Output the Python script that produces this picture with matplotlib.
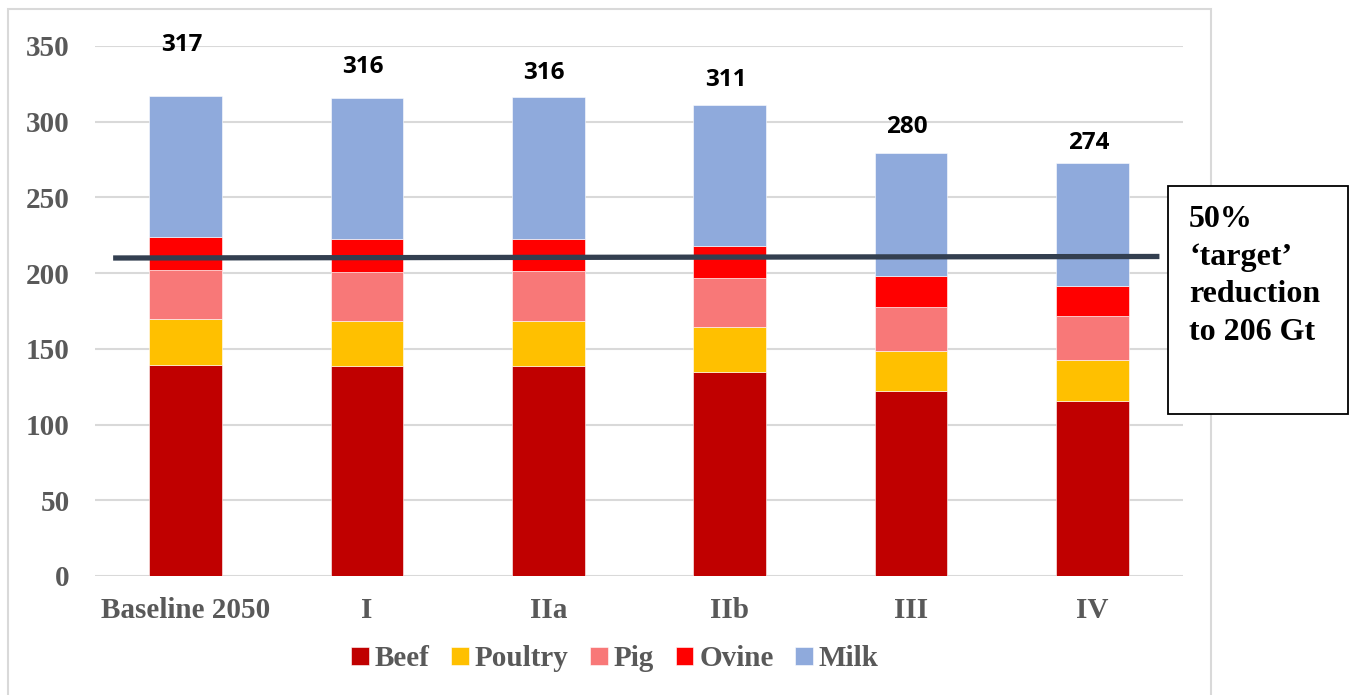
import numpy as np
import matplotlib.pyplot as plt
from matplotlib.patches import Rectangle

# scenarios and livestock emission components
scenarios = ["Baseline 2050", "I", "IIa", "IIb", "III", "IV"]
beef = [139.6, 138.5, 138.9, 134.7, 122.0, 115.8]
poultry = [30.1, 30.1, 29.7, 29.8, 26.8, 26.7]
pig = [32.2, 32.2, 32.6, 32.3, 28.9, 29.2]
ovine = [21.8, 21.6, 21.4, 20.9, 20.5, 19.8]
milk = [93.3, 93.3, 93.5, 93.6, 81.2, 81.3]
totals = [317, 316, 316, 311, 280, 274]

target_x = [-0.40, 5.37]
target_y = [210, 211]
target_text = "50%\n\u2018target\u2019\nreduction\nto 206 Gt"

series = [("Beef", beef, "#C00000"), ("Poultry", poultry, "#FFC000"),
          ("Pig", pig, "#F87878"), ("Ovine", ovine, "#FF0000"),
          ("Milk", milk, "#8FAADC")]

serif = "Liberation Serif"
grey = "#595959"

fig = plt.figure(figsize=(13.55, 6.95), dpi=100)
ax = fig.add_axes([95 / 1355, 119 / 695, 1088 / 1355, 530 / 695])

x = np.arange(len(scenarios))
bottom = np.zeros(len(scenarios))
handles = []
for name, vals, col in series:
    b = ax.bar(x, vals, width=0.40, bottom=bottom, color=col, label=name,
               zorder=2, edgecolor="white", linewidth=0.4)
    handles.append(b)
    bottom += np.array(vals)

# total labels above bars (offsets in pixels, as placed in the original)
label_off = [51, 31, 24, 25, 26, 20]
for xi, top, tot, off in zip(x, bottom, totals, label_off):
    ax.annotate(str(tot), (xi, top), xytext=(-4, off), textcoords="offset pixels",
                ha="center", va="center", fontsize=17.5, fontweight="bold",
                family="Open Sans", color="black", annotation_clip=False)

ax.plot(target_x, target_y, color="#333F50", lw=3.8, zorder=3, solid_capstyle="butt")

ax.set_xlim(-0.5, 5.5)
ax.set_ylim(0, 350)
ax.set_yticks(range(0, 351, 50))
ax.yaxis.grid(True, color="#D9D9D9", lw=1.5, zorder=0)
ax.set_axisbelow(True)
for s in ax.spines.values():
    s.set_visible(False)
ax.tick_params(axis="both", length=0, labelcolor=grey)
ax.tick_params(axis="y", pad=18)
ax.tick_params(axis="x", pad=15)
ax.set_xticks(x)
ax.set_xticklabels(scenarios)
for lab in ax.get_xticklabels() + ax.get_yticklabels():
    lab.set_fontfamily(serif)
    lab.set_fontweight("bold")
    lab.set_fontsize(21)

leg = fig.legend(handles=handles, loc="center", bbox_to_anchor=(615 / 1355, 1 - 659 / 695),
                 ncol=5, frameon=False, handlelength=0.6, handleheight=0.6,
                 handletextpad=0.2, columnspacing=0.75,
                 prop={"family": serif, "weight": "bold", "size": 21})
for t in leg.get_texts():
    t.set_color(grey)

# outer chart frame
fig.patches.append(Rectangle((8 / 1355, -0.02), 1203 / 1355, 1.02 - 9 / 695,
                             transform=fig.transFigure, fill=False,
                             edgecolor="#D9D9D9", lw=1.5))
# target text box
fig.patches.append(Rectangle((1168 / 1355, 1 - 414 / 695), 180 / 1355, 228 / 695,
                             transform=fig.transFigure, fill=True, facecolor="white",
                             edgecolor="black", lw=1.3, zorder=5))
fig.text(1189 / 1355, 1 - 276 / 695, target_text, ha="left", va="center",
         fontsize=23, fontweight="bold", family=serif, linespacing=1.4,
         color="black", zorder=6)

fig.savefig("out.png", dpi=100)
